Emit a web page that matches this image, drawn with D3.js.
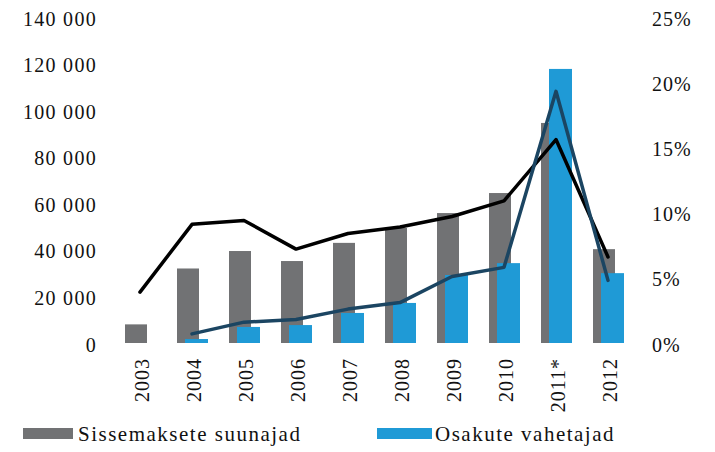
<!DOCTYPE html>
<html>
<head>
<meta charset="utf-8">
<script src="https://cdn.jsdelivr.net/npm/d3@7"></script>
<style>
	body { margin: 0; background: #fff; }
	text { font-family: "Liberation Serif", "DejaVu Serif", serif; fill: #111; }
</style>
</head>
<body>
<div id="chart"></div>
<script>
// chart data
const years = ["2003", "2004", "2005", "2006", "2007", "2008", "2009", "2010", "2011*", "2012"];
const suunajad = [8000, 32000, 39500, 35200, 43000, 49400, 55800, 64400, 94500, 40300];
const vahetajad = [null, 1700, 6900, 7700, 12900, 17200, 29200, 34300, 117700, 30000];
const suunajadPct = [3.9, 9.1, 9.4, 7.2, 8.4, 8.9, 9.7, 10.9, 15.6, 6.6];
const vahetajadPct = [null, 0.7, 1.6, 1.8, 2.6, 3.1, 5.1, 5.8, 19.3, 4.8];
const leftTicks = [0, 20000, 40000, 60000, 80000, 100000, 120000, 140000];
const rightTicks = [0, 5, 10, 15, 20, 25];
const legendLabels = ["Sissemaksete suunajad", "Osakute vahetajad"];

const W = 715, H = 452;
const colors = {gray: "#717274", blue: "#1f9ad6", navy: "#1b4562", black: "#000"};

const svg = d3.select("#chart").append("svg")
	.attr("width", W)
	.attr("height", H);

// scales
const x = d3.scaleBand().domain(years).range([114, 634]);
const yL = d3.scaleLinear().domain([0, 140000]).range([343, 17]);
const yR = d3.scaleLinear().domain([0, 25]).range([343, 17]);
const cx = d => x(d) + x.bandwidth() / 2;
const barW = 22;

// left axis labels
const fmt = v => d3.format(",")(v).replace(/,/g, " ");
svg.append("g")
	.attr("transform", "translate(97,0)")
	.call(d3.axisLeft(yL).tickValues(leftTicks).tickSize(0).tickPadding(0).tickFormat(fmt))
	.call(g => g.select(".domain").remove())
	.selectAll("text")
	.attr("font-size", 20)
	.attr("letter-spacing", 1.3)
	.attr("dy", "0.4em")
	.style("font-family", "Liberation Serif");

// right axis labels
svg.append("g")
	.attr("transform", "translate(652,0)")
	.call(d3.axisRight(yR).tickValues(rightTicks).tickSize(0).tickPadding(0).tickFormat(d => d + "%"))
	.call(g => g.select(".domain").remove())
	.selectAll("text")
	.attr("font-size", 20)
	.attr("letter-spacing", 1)
	.attr("dy", "0.4em")
	.style("font-family", "Liberation Serif");

// bars
svg.append("g")
	.selectAll("rect")
	.data(years).enter()
	.append("rect")
	.attr("x", d => cx(d) - 15)
	.attr("width", barW)
	.attr("y", (d, i) => yL(suunajad[i]))
	.attr("height", (d, i) => yL(0) - yL(suunajad[i]))
	.attr("fill", colors.gray);

svg.append("g")
	.selectAll("rect")
	.data(years.filter((d, i) => vahetajad[i] !== null)).enter()
	.append("rect")
	.attr("x", d => cx(d) - 7)
	.attr("width", barW + 1)
	.attr("y", d => yL(vahetajad[years.indexOf(d)]))
	.attr("height", d => yL(0) - yL(vahetajad[years.indexOf(d)]))
	.attr("fill", colors.blue);

// lines on the right axis
const line = d3.line()
	.defined(d => d.v !== null)
	.x(d => cx(d.year))
	.y(d => yR(d.v));

svg.append("path")
	.datum(years.map((year, i) => ({year, v: suunajadPct[i]})))
	.attr("d", line)
	.attr("fill", "none")
	.attr("stroke", colors.black)
	.attr("stroke-width", 3.5)
	.attr("stroke-linejoin", "round")
	.attr("stroke-linecap", "round");

svg.append("path")
	.datum(years.map((year, i) => ({year, v: vahetajadPct[i]})))
	.attr("d", line)
	.attr("fill", "none")
	.attr("stroke", colors.navy)
	.attr("stroke-width", 3.5)
	.attr("stroke-linejoin", "round")
	.attr("stroke-linecap", "round");

// category labels, rotated
svg.append("g")
	.selectAll("text")
	.data(years).enter()
	.append("text")
	.attr("transform", d => `translate(${cx(d) + 9},358) rotate(-90)`)
	.attr("text-anchor", "end")
	.attr("font-size", 20)
	.attr("letter-spacing", 1)
	.text(d => d);

// legend
const legend = svg.append("g")
	.selectAll("g")
	.data(legendLabels).enter()
	.append("g")
	.attr("transform", (d, i) => `translate(${i ? 377 : 23},428)`);

legend.append("rect")
	.attr("width", (d, i) => i ? 55 : 50)
	.attr("height", 11)
	.attr("fill", (d, i) => i ? colors.blue : colors.gray);

legend.append("text")
	.attr("x", (d, i) => i ? 58 : 55)
	.attr("y", 13)
	.attr("font-size", 21)
	.attr("letter-spacing", 1.5)
	.text(d => d);
</script>
</body>
</html>
